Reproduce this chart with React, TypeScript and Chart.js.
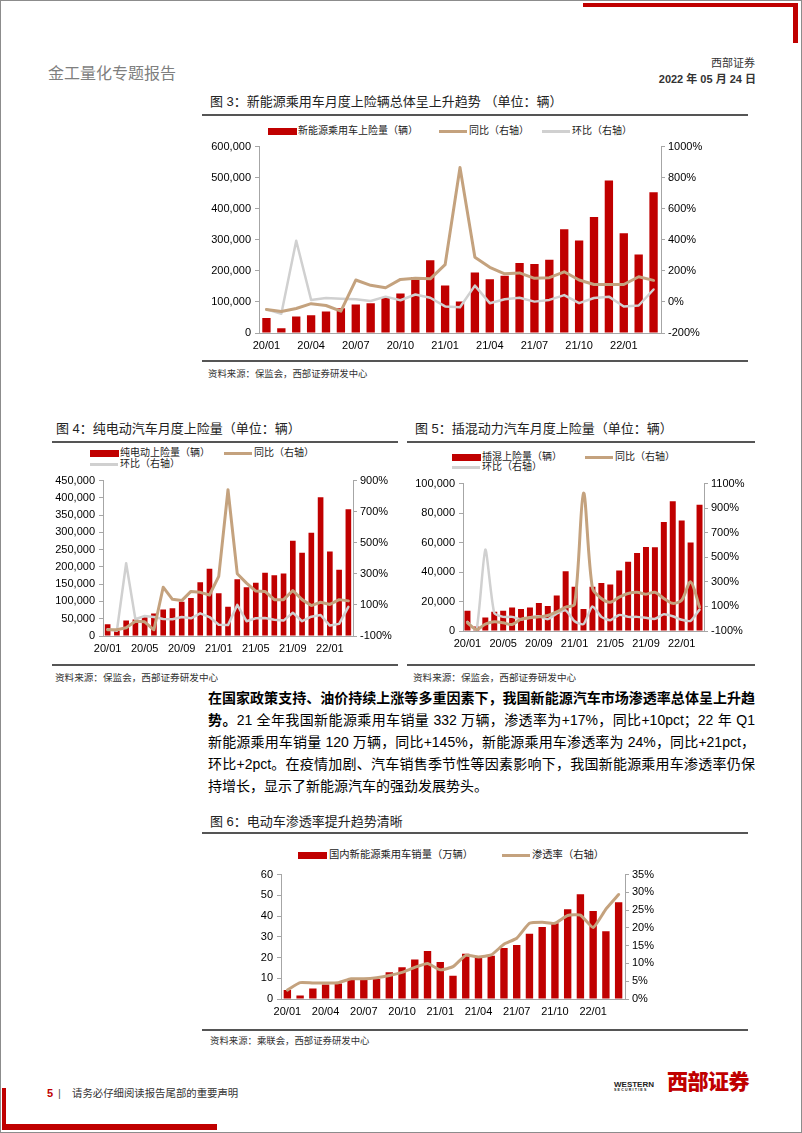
import React, { useEffect, useRef } from "react";
import { Chart, registerables } from "chart.js";
Chart.register(...registerables);

// ---------- data ----------
const months = [
  "20/01", "20/02", "20/03", "20/04", "20/05", "20/06", "20/07", "20/08", "20/09",
  "20/10", "20/11", "20/12", "21/01", "21/02", "21/03", "21/04", "21/05", "21/06",
  "21/07", "21/08", "21/09", "21/10", "21/11", "21/12", "22/01", "22/02", "22/03",
];

// Fig 3: NEV passenger car insured registrations
const nevInsured = [48000, 15000, 53000, 57000, 69000, 80000, 92000, 96000, 116000, 127000, 180000, 234000, 153000, 101000, 195000, 173000, 184000, 225000, 222000, 236000, 334000, 298000, 373000, 491000, 321000, 253000, 453000];
const nevYoY = [-48, -61, -42, -11, -23, -59, 141, 107, 91, 145, 152, 149, 240, 865, 288, 223, 181, 187, 152, 156, 194, 141, 112, 112, 112, 162, 139];
const nevMoM = [-48, -76, 394, 13, 25, 21, 17, 6, 34, 11, 48, 27, -29, -34, 105, -8, 17, 27, 2, 13, 44, -8, 25, 34, -29, -23, 80];

// Fig 4: BEV
const bevInsured = [34000, 15000, 45000, 48000, 54000, 65000, 77000, 80000, 99000, 110000, 156000, 195000, 124000, 85000, 164000, 141000, 154000, 183000, 176000, 181000, 276000, 241000, 299000, 402000, 245000, 192000, 367000];
const bevYoY = [-60, -60, -47, -5, -9, -60, 214, 136, 128, 187, 181, 164, 284, 841, 301, 240, 189, 187, 134, 134, 193, 134, 96, 117, 103, 134, 126];
const bevMoM = [-56, -66, 368, 8, 29, 22, 10, 8, 22, 14, 46, 22, -28, -30, 100, -5, 14, 16, 5, -1, 50, -5, 24, 35, -33, -22, 88];

// Fig 5: PHEV
const phevInsured = [13800, 3000, 9100, 13000, 13800, 16000, 15000, 16000, 19000, 17000, 24000, 40500, 30000, 15000, 30000, 32500, 31600, 41000, 47000, 53000, 57000, 56800, 74000, 88000, 75000, 60000, 85700];
const phevYoY = [-33, -87, -44, -25, -33, -47, -4, 7, 15, 26, 55, 95, 117, 1023, 250, 165, 135, 175, 205, 215, 200, 215, 165, 125, 150, 300, 95];
const phevMoM = [-25, -97, 563, 47, 15, 15, -6, 10, 20, -4, 42, 68, -20, -44, 100, 15, -12, 31, 15, 15, 7, -1, 36, 20, -9, -17, 74];

// Fig 6: NEV sales (10k units) and penetration
const nevSales = [4.4, 1.7, 5.1, 7.0, 7.5, 9.3, 9.3, 9.7, 12.9, 15.3, 19.0, 23.1, 17.8, 11.2, 21.8, 19.9, 20.9, 24.6, 26.0, 31.5, 34.7, 36.5, 43.3, 50.5, 42.5, 32.7, 46.7];
const nevPenetration = [2.5, 4.6, 4.5, 4.5, 4.6, 5.7, 5.7, 6.0, 6.6, 7.5, 8.9, 10.0, 8.2, 9.1, 12.3, 11.8, 12.4, 15.4, 17.1, 21.3, 21.6, 21.3, 23.5, 23.6, 20.1, 25.3, 29.4];

// ---------- styles ----------
const RED = "#C00000";
const TAN = "#C4A27E";
const GRAY = "#D0D0D0";
const AXIS = "#A6A6A6";
const LATIN = "'Liberation Sans', Arial, 'Noto Sans CJK SC', sans-serif";
const CJK = "'Liberation Sans', 'Noto Sans CJK SC', sans-serif";

type LineSpec = { data: number[]; color: string; width: number; tension?: number };
type ComboProps = {
  left: number; top: number; width: number; height: number;
  leftW: number; rightW: number; padTop: number; xH: number;
  bars: number[]; lines: LineSpec[];
  yMax: number; yStep: number;
  y1Min: number; y1Max: number; y1Step: number;
  labelEvery: number; barRatio: number;
};

function Combo(p: ComboProps) {
  const ref = useRef<HTMLCanvasElement>(null);
  useEffect(() => {
    const tickFont = { size: 11, family: LATIN };
    const chart = new Chart(ref.current as HTMLCanvasElement, {
      type: "bar",
      data: {
        labels: months,
        datasets: [
          ...p.lines.map((l, i) => ({
            type: "line" as const,
            data: l.data,
            yAxisID: "y1",
            borderColor: l.color,
            backgroundColor: l.color,
            borderWidth: l.width,
            pointRadius: 0,
            tension: l.tension ?? 0,
            borderJoinStyle: "round" as const,
            borderCapStyle: "round" as const,
            fill: false,
            order: i + 1,
          })),
          {
            type: "bar" as const,
            data: p.bars,
            yAxisID: "y",
            backgroundColor: RED,
            categoryPercentage: 1,
            barPercentage: p.barRatio,
            order: 10,
          },
        ],
      } as any,
      options: {
        responsive: false,
        maintainAspectRatio: false,
        animation: false,
        layout: { padding: { top: p.padTop, left: 0, right: 0, bottom: 0 } },
        plugins: { legend: { display: false }, tooltip: { enabled: false } },
        scales: {
          x: {
            grid: { display: false, drawTicks: false },
            border: { display: true, color: AXIS, width: 1 },
            ticks: {
              autoSkip: false,
              maxRotation: 0,
              padding: 6,
              color: "#000",
              font: tickFont,
              callback: (_v: any, i: number) => (i % p.labelEvery === 0 ? months[i] : ""),
            },
            afterFit: (s: any) => { s.height = p.xH; },
          },
          y: {
            position: "left",
            min: 0,
            max: p.yMax,
            grid: { display: true, drawOnChartArea: false, drawTicks: true, tickLength: 4, color: AXIS },
            border: { display: true, color: AXIS, width: 1 },
            ticks: {
              stepSize: p.yStep,
              padding: 4,
              color: "#000",
              font: tickFont,
              callback: (v: any) => Number(v).toLocaleString("en-US"),
            },
            afterFit: (s: any) => { s.width = p.leftW; },
          },
          y1: {
            position: "right",
            min: p.y1Min,
            max: p.y1Max,
            grid: { display: true, drawOnChartArea: false, drawTicks: true, tickLength: 4, color: AXIS },
            border: { display: true, color: AXIS, width: 1 },
            ticks: {
              stepSize: p.y1Step,
              padding: 3,
              color: "#000",
              font: tickFont,
              callback: (v: any) => `${v}%`,
            },
            afterFit: (s: any) => { s.width = p.rightW; },
          },
        },
      } as any,
    });
    return () => chart.destroy();
  }, []);
  return (
    <canvas
      ref={ref}
      width={p.width}
      height={p.height}
      style={{ position: "absolute", left: p.left, top: p.top, width: p.width, height: p.height }}
    />
  );
}

type TProps = {
  x: number; y: number; size: number; children: React.ReactNode;
  color?: string; weight?: number | string; family?: string; right?: boolean; ls?: number;
};
function T({ x, y, size, children, color = "#000", weight = 400, family = CJK, right = false, ls = 0 }: TProps) {
  const lh = Math.round(size * 1.4);
  return (
    <div
      style={{
        position: "absolute",
        left: right ? undefined : x,
        right: right ? 802 - x : undefined,
        top: y - lh / 2,
        fontSize: size,
        lineHeight: `${lh}px`,
        color,
        fontWeight: weight as any,
        fontFamily: family,
        whiteSpace: "nowrap",
        letterSpacing: ls,
      }}
    >
      {children}
    </div>
  );
}

function Rect({ x, y, w, h, c }: { x: number; y: number; w: number; h: number; c: string }) {
  return <div style={{ position: "absolute", left: x, top: y, width: w, height: h, background: c }} />;
}

function HLine({ x1, x2, y, c = "#555", t = 1.5 }: { x1: number; x2: number; y: number; c?: string; t?: number }) {
  return <Rect x={x1} y={y - t / 2} w={x2 - x1} h={t} c={c} />;
}

function LegBox({ x, y }: { x: number; y: number }) {
  return <Rect x={x} y={y - 3.5} w={29} h={7} c={RED} />;
}
function LegLine({ x, y, c }: { x: number; y: number; c: string }) {
  return <Rect x={x} y={y - 1.5} w={28} h={3} c={c} />;
}

const PL = 208; // paragraph left
const PW = 547; // paragraph width

function PLine({ y, children, last = false }: { y: number; children: React.ReactNode; last?: boolean }) {
  return (
    <div
      style={{
        position: "absolute",
        left: PL,
        width: PW,
        top: y - 10,
        height: 20,
        lineHeight: "20px",
        fontSize: 14,
        fontFamily: CJK,
        color: "#000",
        whiteSpace: "nowrap",
        textAlign: last ? "left" : "justify",
        textAlignLast: last ? "left" : "justify",
      } as any}
    >
      {children}
    </div>
  );
}

export default function App() {
  const src = "资料来源：保监会，西部证券研发中心";
  return (
    <div
      style={{
        position: "absolute",
        left: 0,
        top: 0,
        width: 802,
        height: 1133,
        boxSizing: "border-box",
        border: "1px solid #8c8c8c",
        background: "#fff",
        overflow: "hidden",
      }}
    >
      <div style={{ position: "absolute", left: -1, top: -1, width: 802, height: 1133 }}>
        {/* decorative frame */}
        <Rect x={583} y={3} w={215} h={4} c={RED} />
        <Rect x={793} y={3} w={5} h={40} c={RED} />
        <Rect x={2} y={1088} w={4} h={42} c={RED} />
        <Rect x={2} y={1124} w={215} h={6} c={RED} />

        {/* header */}
        <T x={48} y={74} size={16} color="#7f7f7f">金工量化专题报告</T>
        <T x={755} y={63} size={11} color="#333" right>西部证券</T>
        <T x={756} y={79} size={11} color="#333" right weight={600}>2022 年 05 月 24 日</T>

        {/* Figure 3 */}
        <T x={210} y={102} size={13} color="#222">图 3：新能源乘用车月度上险辆总体呈上升趋势 （单位：辆）</T>
        <HLine x1={202} x2={748} y={115} />
        <LegBox x={268} y={131} />
        <T x={298} y={131} size={10} color="#222">新能源乘用车上险量（辆）</T>
        <LegLine x={439} y={131} c={TAN} />
        <T x={469} y={131} size={10} color="#222">同比（右轴）</T>
        <LegLine x={542} y={131} c={GRAY} />
        <T x={572} y={131} size={10} color="#222">环比（右轴）</T>
        <Combo
          left={200} top={136} width={520} height={220}
          leftW={59} rightW={59} padTop={7} xH={23}
          bars={nevInsured}
          lines={[{ data: nevYoY, color: TAN, width: 3 }, { data: nevMoM, color: GRAY, width: 2.5 }]}
          yMax={600000} yStep={100000} y1Min={-200} y1Max={1000} y1Step={200}
          labelEvery={3} barRatio={0.56}
        />
        <HLine x1={202} x2={748} y={361} />
        <T x={208} y={373} size={9.4} color="#333">{src}</T>

        {/* Figure 4 */}
        <T x={56} y={429} size={13} color="#222">图 4：纯电动汽车月度上险量（单位：辆）</T>
        <HLine x1={52} x2={398} y={442} />
        <LegBox x={90} y={453} />
        <T x={120} y={453} size={10} color="#222">纯电动上险量（辆）</T>
        <LegLine x={224} y={453} c={TAN} />
        <T x={254} y={453} size={10} color="#222">同比（右轴）</T>
        <LegLine x={90} y={464} c={GRAY} />
        <T x={120} y={464} size={10} color="#222">环比（右轴）</T>
        <Combo
          left={40} top={470} width={360} height={190}
          leftW={63} rightW={47} padTop={8} xH={24}
          bars={bevInsured}
          lines={[{ data: bevYoY, color: TAN, width: 3 }, { data: bevMoM, color: GRAY, width: 2.5 }]}
          yMax={450000} yStep={50000} y1Min={-100} y1Max={900} y1Step={100}
          labelEvery={4} barRatio={0.61}
        />
        <HLine x1={52} x2={398} y={665} />
        <T x={55} y={677} size={9.6} color="#333">{src}</T>

        {/* Figure 5 */}
        <T x={415} y={429} size={13} color="#222">图 5：插混动力汽车月度上险量（单位：辆）</T>
        <HLine x1={407} x2={755} y={442} />
        <LegBox x={452} y={457} />
        <T x={482} y={457} size={10} color="#222">插混上险量（辆）</T>
        <LegLine x={585} y={457} c={TAN} />
        <T x={615} y={457} size={10} color="#222">同比（右轴）</T>
        <LegLine x={452} y={467} c={GRAY} />
        <T x={482} y={467} size={10} color="#222">环比（右轴）</T>
        <Combo
          left={405} top={473} width={350} height={185}
          leftW={58} rightW={51} padTop={8} xH={27}
          bars={phevInsured}
          lines={[{ data: phevYoY, color: TAN, width: 3, tension: 0.3 }, { data: phevMoM, color: GRAY, width: 2.5, tension: 0.2 }]}
          yMax={100000} yStep={10000} y1Min={-100} y1Max={1100} y1Step={200}
          labelEvery={4} barRatio={0.67}
        />
        <HLine x1={407} x2={755} y={665} />
        <T x={413} y={677} size={9.6} color="#333">{src}</T>

        {/* Paragraph */}
        <PLine y={698}>
          <b>在国家政策支持、油价持续上涨等多重因素下，我国新能源汽车市场渗透率总体呈上升趋</b>
        </PLine>
        <PLine y={720}>
          <b>势。</b>21 全年我国新能源乘用车销量 332 万辆，渗透率为+17%，同比+10pct；22 年 Q1
        </PLine>
        <PLine y={742}>
          新能源乘用车销量 120 万辆，同比+145%，新能源乘用车渗透率为 24%，同比+21pct，
        </PLine>
        <PLine y={764}>
          环比+2pct。在疫情加剧、汽车销售季节性等因素影响下，我国新能源乘用车渗透率仍保
        </PLine>
        <PLine y={786} last>
          持增长，显示了新能源汽车的强劲发展势头。
        </PLine>

        {/* Figure 6 */}
        <T x={210} y={822} size={13} color="#222">图 6：电动车渗透率提升趋势清晰</T>
        <HLine x1={202} x2={748} y={833} />
        <LegBox x={298} y={855} />
        <T x={329} y={855} size={10.3} color="#222">国内新能源乘用车销量（万辆）</T>
        <LegLine x={502} y={855} c={TAN} />
        <T x={532} y={855} size={10.3} color="#222">渗透率（右轴）</T>
        <Combo
          left={240} top={864} width={420} height={160}
          leftW={41} rightW={35} padTop={7} xH={25}
          bars={nevSales}
          lines={[{ data: nevPenetration, color: TAN, width: 3, tension: 0.15 }]}
          yMax={60} yStep={10} y1Min={0} y1Max={35} y1Step={5}
          labelEvery={3} barRatio={0.58}
        />
        <HLine x1={202} x2={748} y={1030} />
        <T x={210} y={1040} size={9.4} color="#333">资料来源：乘联会，西部证券研发中心</T>

        {/* Footer */}
        <T x={47} y={1093} size={11} color={RED} weight={700} family={LATIN}>5</T>
        <T x={58} y={1093} size={11} color="#555" family={LATIN}>|</T>
        <T x={72} y={1093} size={10.4} color="#333">请务必仔细阅读报告尾部的重要声明</T>
        <T x={614} y={1084} size={8} color="#222" weight={700} family={LATIN}>WESTERN</T>
        <T x={614} y={1090.5} size={3.6} color="#222" weight={700} family={LATIN} ls={1.2}>SECURITIES</T>
        <T x={667} y={1081} size={21} color={RED} weight={900} ls={-0.5}>西部证券</T>
      </div>
    </div>
  );
}
